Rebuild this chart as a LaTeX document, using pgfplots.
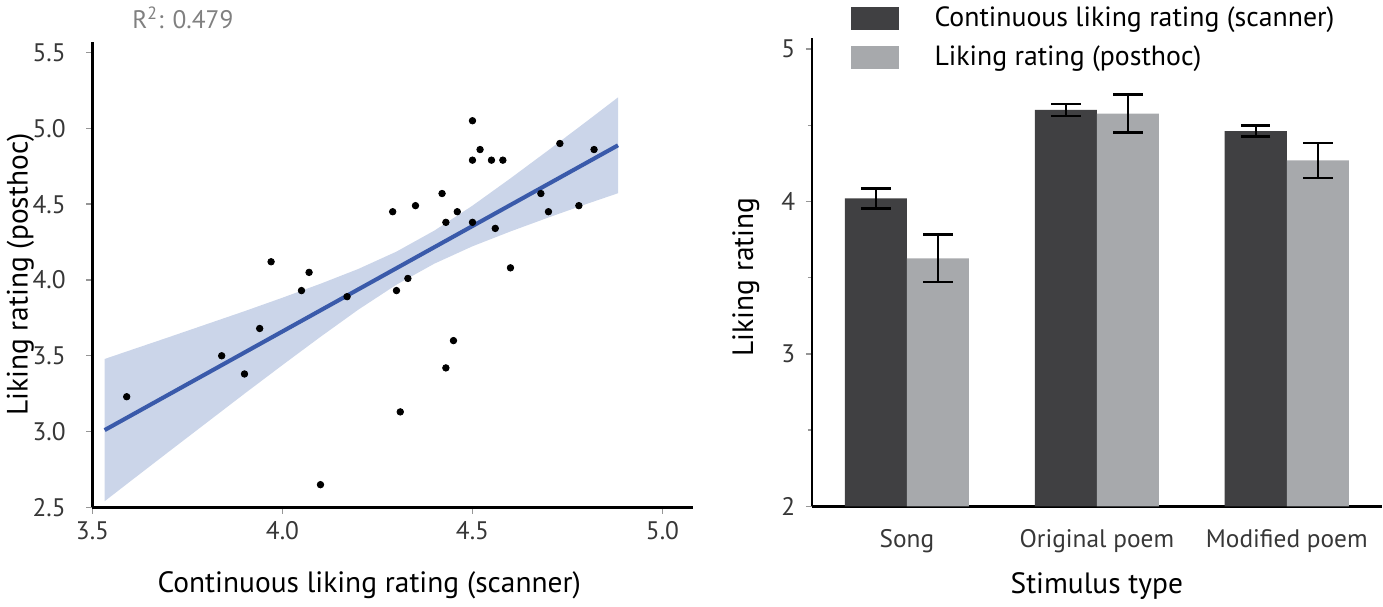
\documentclass[border=0pt]{standalone}
\usepackage{fontspec}
\setmainfont{PT Sans}
\usepackage{pgfplots}
\pgfplotsset{compat=1.18}
\usepgfplotslibrary{fillbetween}

\definecolor{bandblue}{RGB}{203,213,233}
\definecolor{lineblue}{RGB}{58,90,170}
\definecolor{darkbar}{RGB}{64,64,66}
\definecolor{lightbar}{RGB}{167,169,172}
\definecolor{tickgray}{RGB}{150,150,150}
\definecolor{labgray}{RGB}{55,55,55}

\begin{document}
\begin{tikzpicture}
\pgfplotsset{
  every axis/.append style={
    scale only axis,
    axis x line=bottom, axis y line=left,
    axis line style={-, line width=1.25bp, black},
    tick align=outside,
    major tick length=3bp,
    tick style={tickgray, line width=0.7bp},
    tick label style={font=\fontsize{12.5}{15}\selectfont, text=labgray, inner sep=0pt},
    label style={font=\fontsize{14.5}{17}\selectfont},
  }
}

% left: scatter with regression line and confidence band
\begin{axis}[
  at={(0,0)}, anchor=south west,
  width=295bp, height=228.75bp,
  xmin=3.5, xmax=5.08, ymin=2.5, ymax=5.57,
  xtick={3.5,4.0,4.5,5.0}, xticklabels={3.5,4.0,4.5,5.0},
  ytick={2.5,3.0,3.5,4.0,4.5,5.0,5.5},
  yticklabels={2.5,3.0,3.5,4.0,4.5,5.0,5.5},
  xticklabel style={anchor=base, yshift=-13bp},
  yticklabel style={anchor=east, xshift=-10bp},
  xlabel={Continuous liking rating (scanner)},
  ylabel={Liking rating (posthoc)},
  xlabel style={at={(axis description cs:0.461,-0.168)}, anchor=center},
  ylabel style={at={(axis description cs:-0.12,0.5)}, anchor=center},
  clip=false,
]
\addplot[name path=up, draw=none, forget plot] coordinates {
  (3.532,3.479)(3.6,3.537)(3.7,3.622)(3.8,3.708)(3.9,3.794)(4.0,3.883)
  (4.1,3.975)(4.2,4.073)(4.3,4.187)(4.4,4.326)(4.5,4.490)(4.6,4.670)
  (4.7,4.856)(4.8,5.045)(4.883,5.204)
};
\addplot[name path=lo, draw=none, forget plot] coordinates {
  (3.532,2.541)(3.6,2.673)(3.7,2.866)(3.8,3.058)(3.9,3.250)(4.0,3.439)
  (4.1,3.625)(4.2,3.805)(4.3,3.969)(4.4,4.108)(4.5,4.222)(4.6,4.320)
  (4.7,4.412)(4.8,4.501)(4.883,4.572)
};
\addplot[fill=bandblue, draw=none, forget plot] fill between[of=up and lo];
\addplot[lineblue, line width=2bp] coordinates {(3.532,3.010)(4.883,4.888)};
\addplot[only marks, mark=*, mark size=1.6bp, black] coordinates {
  (3.59,3.23)(3.84,3.50)(3.90,3.38)(3.94,3.68)(3.97,4.12)(4.05,3.93)
  (4.07,4.05)(4.10,2.65)(4.17,3.89)(4.29,4.45)(4.30,3.93)(4.31,3.13)
  (4.33,4.01)(4.35,4.49)(4.42,4.57)(4.43,3.42)(4.43,4.38)(4.45,3.60)
  (4.46,4.45)(4.50,4.79)(4.50,5.05)(4.50,4.38)(4.52,4.86)(4.55,4.79)
  (4.56,4.34)(4.58,4.79)(4.60,4.08)(4.68,4.57)(4.70,4.45)(4.73,4.90)
  (4.78,4.49)(4.82,4.86)
};
\node[anchor=west, text={rgb,255:red,128;green,128;blue,128},
  font=\fontsize{12.5}{15}\selectfont] at (axis cs:3.586,5.73) {R\textsuperscript{2}: 0.479};
\end{axis}

% right: grouped bars with error bars
\begin{axis}[
  at={(353.5bp,0.5bp)}, anchor=south west,
  width=280bp, height=230bp,
  xmin=-0.5, xmax=2.5, ymin=2, ymax=5.07,
  ybar=0pt, bar width=30.5bp,
  xtick={0,1,2}, xticklabels={Song,Original poem,Modified poem},
  xtick style={draw=none},
  ytick={2,3,4,5}, yticklabels={2,3,4,5},
  minor ytick={2.5,3.5,4.5}, minor tick length=2bp,
  xticklabel style={anchor=base, yshift=-17bp},
  yticklabel style={anchor=east, xshift=-5bp},
  xlabel={Stimulus type},
  ylabel={Liking rating},
  xlabel style={at={(axis description cs:0.5,-0.17)}, anchor=center},
  ylabel style={at={(axis description cs:-0.116,0.49)}, anchor=center},
  legend image code/.code={
    \fill[#1] (0bp,-5.5bp) rectangle (23.5bp,5.5bp);
  },
  legend style={at={(rel axis cs:0.068,1.068)}, anchor=north west,
    draw=none, fill=none, inner sep=0pt, row sep=8bp,
    font=\fontsize{13.7}{16}\selectfont,
    nodes={inner sep=0pt}},
  legend cell align=left,
  clip=false,
]
\addplot[fill=darkbar, draw=none,
  error bars/.cd, y dir=both, y explicit,
  error bar style={line width=1.2bp, black},
  error mark options={rotate=90, mark size=7.25bp, line width=1.2bp, black}]
  coordinates {(0,4.02) +- (0,0.065) (1,4.60) +- (0,0.04) (2,4.462) +- (0,0.037)};
\addlegendentry{\hspace*{17.5bp}Continuous liking rating (scanner)}
\addplot[fill=lightbar, draw=none,
  error bars/.cd, y dir=both, y explicit,
  error bar style={line width=1.2bp, black},
  error mark options={rotate=90, mark size=7.25bp, line width=1.2bp, black}]
  coordinates {(0,3.627) +- (0,0.157) (1,4.576) +- (0,0.125) (2,4.269) +- (0,0.114)};
\addlegendentry{\hspace*{17.5bp}Liking rating (posthoc)}
\end{axis}
\end{tikzpicture}
\end{document}
